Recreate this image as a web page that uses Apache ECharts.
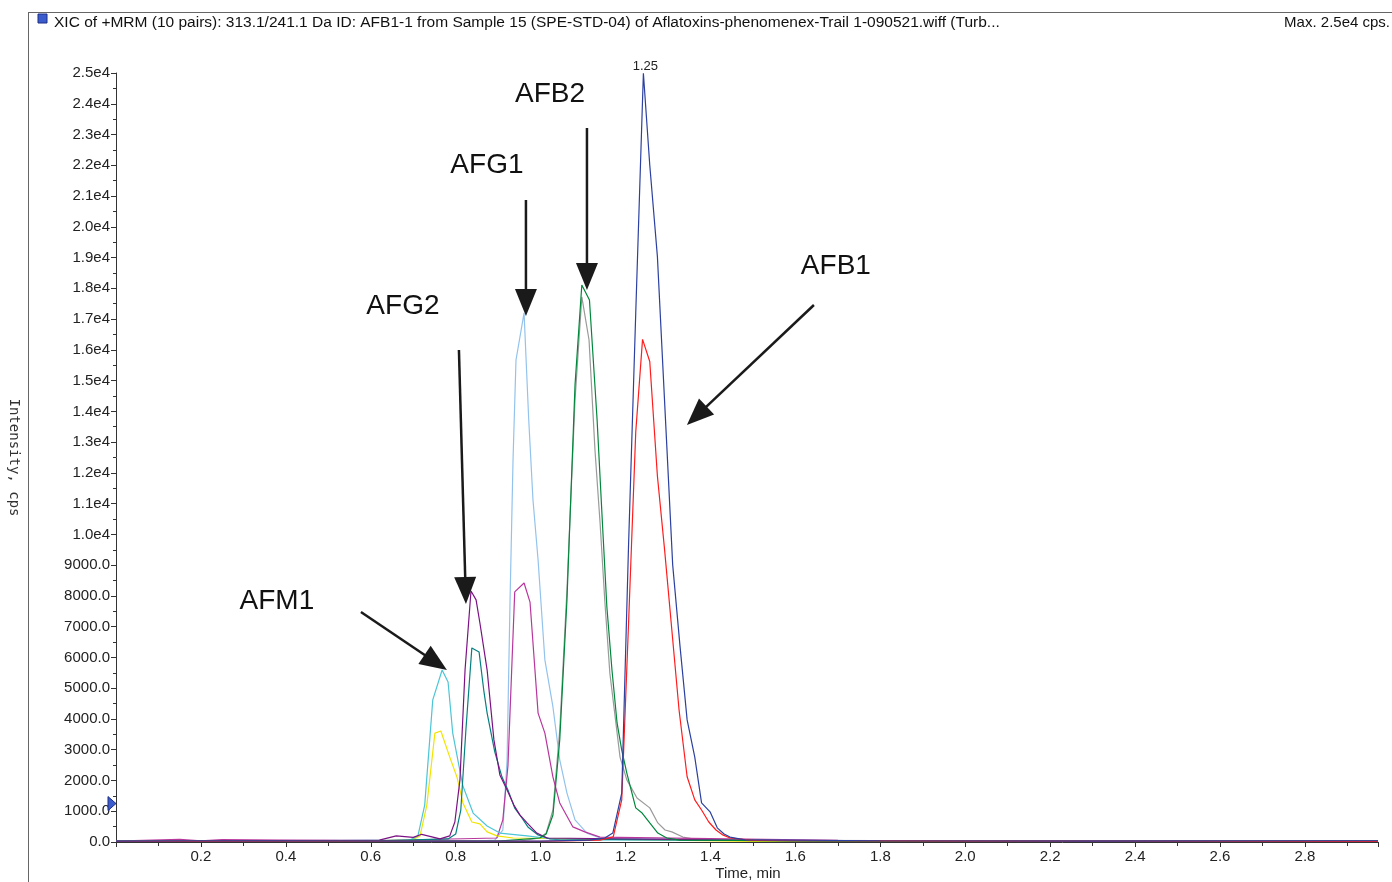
<!DOCTYPE html>
<html><head><meta charset="utf-8">
<script src="https://cdn.jsdelivr.net/npm/echarts@6/dist/echarts.min.js"></script>
<style>html,body{margin:0;padding:0;background:#fff;}#c{width:1392px;height:882px;}</style>
</head><body><div id="c"></div>
<script>
// ---------- texts ----------
const titleText = 'XIC of +MRM (10 pairs): 313.1/241.1 Da ID: AFB1-1 from Sample 15 (SPE-STD-04) of Aflatoxins-phenomenex-Trail 1-090521.wiff (Turb...';
const maxText = 'Max. 2.5e4 cps.';
const xAxisName = 'Time, min';
const yAxisName = 'Intensity, cps';
const apexLabel = '1.25';

// ---------- data (time in min, intensity in cps) ----------
const blueT = [0, 0.35, 0.7, 1.0, 1.116, 1.151, 1.170, 1.191, 1.207, 1.224, 1.242, 1.257, 1.275, 1.297, 1.311, 1.328, 1.345, 1.363, 1.379, 1.399, 1.416, 1.432, 1.446, 1.481, 1.8, 2.3, 2.972];
const blueI = [30, 40, 30, 30, 60, 130, 290, 1590, 9620, 17200, 24990, 22010, 19030, 12910, 9010, 6400, 3970, 2760, 1270, 980, 460, 260, 160, 70, 40, 30, 40];

const redT = [0, 0.5, 1.0, 1.140, 1.171, 1.191, 1.207, 1.224, 1.240, 1.257, 1.275, 1.292, 1.309, 1.326, 1.345, 1.363, 1.379, 1.396, 1.413, 1.429, 1.446, 1.5, 2.0, 2.972];
const redI = [20, 30, 20, 60, 170, 1370, 7090, 13330, 16340, 15620, 11900, 9490, 6890, 4290, 2120, 1370, 1040, 650, 390, 230, 130, 50, 30, 20];

const greenT = [0, 0.5, 0.9, 0.998, 1.013, 1.029, 1.045, 1.062, 1.081, 1.097, 1.115, 1.133, 1.147, 1.156, 1.168, 1.180, 1.191, 1.203, 1.224, 1.239, 1.257, 1.276, 1.297, 1.328, 1.8, 2.972];
const greenI = [20, 30, 30, 130, 260, 880, 3320, 7870, 14860, 18110, 17620, 13720, 9980, 7640, 5590, 3870, 2990, 2240, 1110, 940, 620, 290, 130, 60, 30, 20];

const grayT = [0, 0.6, 0.95, 0.998, 1.013, 1.029, 1.045, 1.062, 1.081, 1.097, 1.114, 1.128, 1.140, 1.151, 1.163, 1.187, 1.203, 1.227, 1.257, 1.276, 1.293, 1.309, 1.335, 1.375, 2.0, 2.972];
const grayI = [30, 40, 30, 130, 290, 1040, 3640, 8190, 14370, 17720, 16320, 12740, 10370, 7870, 5490, 2760, 2020, 1430, 1110, 620, 390, 330, 160, 65, 40, 30];

const lightBlueT = [0, 0.5, 0.85, 0.892, 0.911, 0.921, 0.928, 0.935, 0.942, 0.961, 0.972, 0.982, 0.994, 1.010, 1.029, 1.045, 1.062, 1.081, 1.109, 1.140, 1.6, 2.972];
const lightBlueI = [30, 40, 30, 65, 390, 2670, 7870, 12420, 15670, 17200, 13720, 11120, 9170, 5920, 4390, 2670, 1590, 720, 290, 130, 40, 30];

const magentaT = [0, 0.15, 0.2, 0.25, 0.6, 0.897, 0.911, 0.923, 0.939, 0.961, 0.975, 0.994, 1.010, 1.029, 1.045, 1.076, 1.104, 1.140, 1.7, 2.972];
const magentaI = [30, 90, 40, 80, 40, 130, 720, 2470, 8130, 8420, 7800, 4190, 3540, 2110, 1270, 490, 330, 160, 50, 30];

const purpleT = [0, 0.62, 0.66, 0.70, 0.72, 0.763, 0.786, 0.798, 0.810, 0.822, 0.836, 0.848, 0.857, 0.874, 0.890, 0.904, 0.921, 0.937, 0.951, 0.968, 0.991, 1.015, 1.6, 2.972];
const purpleI = [20, 60, 200, 150, 250, 100, 200, 650, 2020, 5590, 8160, 7870, 7120, 5590, 3320, 2180, 1690, 1200, 880, 620, 290, 130, 40, 20];

const tealT = [0, 0.6, 0.782, 0.800, 0.812, 0.824, 0.838, 0.855, 0.866, 0.874, 0.892, 0.909, 0.923, 0.939, 0.956, 0.970, 0.994, 1.022, 1.7, 2.972];
const tealI = [20, 30, 100, 260, 1040, 3640, 6310, 6180, 4940, 4190, 2930, 2110, 1690, 1100, 780, 490, 230, 100, 30, 20];

const cyanT = [0, 0.4, 0.692, 0.711, 0.727, 0.746, 0.768, 0.782, 0.793, 0.805, 0.817, 0.841, 0.874, 0.904, 0.968, 1.010, 1.045, 2.0, 2.972];
const cyanI = [30, 40, 65, 200, 1200, 4620, 5590, 5200, 3540, 2670, 1820, 940, 520, 290, 200, 130, 65, 40, 30];

const yellowT = [0, 0.5, 0.697, 0.716, 0.732, 0.751, 0.765, 0.786, 0.803, 0.817, 0.838, 0.857, 0.874, 0.897, 0.935, 1.5, 2.972];
const yellowI = [20, 20, 65, 200, 1200, 3540, 3610, 2760, 2110, 1270, 650, 590, 330, 200, 130, 20, 20];

// annotations in data units: label position, arrow start, arrow tip
const annLabels = ['AFB2', 'AFG1', 'AFG2', 'AFM1', 'AFB1'];
const annTextPos = [[1.022, 24317], [0.8735, 22009], [0.6757, 17425], [0.3789, 7835], [1.6953, 18726]];
const annFrom = [[1.1091, 23212], [0.9654, 20871], [0.8076, 15995], [0.5768, 7477], [1.6436, 17458]];
const annTo = [[1.1091, 17945], [0.9654, 17100], [0.8241, 7737], [0.7793, 5592], [1.3445, 13557]];
const thresholdLevel = 1250;

// ---------- chart ----------
const seriesDefs = [
  {name: 'gray', t: grayT, v: grayI, color: '#9a9a9a'},
  {name: 'lightBlue', t: lightBlueT, v: lightBlueI, color: '#93c3ec'},
  {name: 'magenta', t: magentaT, v: magentaI, color: '#b8379d'},
  {name: 'yellow', t: yellowT, v: yellowI, color: '#f2e400'},
  {name: 'cyan', t: cyanT, v: cyanI, color: '#4cc5d6'},
  {name: 'teal', t: tealT, v: tealI, color: '#067f80'},
  {name: 'purple', t: purpleT, v: purpleI, color: '#7b1283'},
  {name: 'green', t: greenT, v: greenI, color: '#00873b'},
  {name: 'red', t: redT, v: redI, color: '#ff1c1c'},
  {name: 'blue', t: blueT, v: blueI, color: '#2b40a0'}
];

const FONT = 'Liberation Sans, Arial, sans-serif';

const series = seriesDefs.map(d => ({
  name: d.name, type: 'line', data: d.t.map((t, i) => [t, d.v[i]]),
  showSymbol: false, symbol: 'none',
  lineStyle: {color: d.color, width: 1.2}, itemStyle: {color: d.color},
  animation: false, z: 2
}));

const chart = echarts.init(document.getElementById('c'), null, {renderer: 'canvas'});
const option = {
  animation: false,
  backgroundColor: '#ffffff',
  grid: {left: 116, right: 14, top: 73, bottom: 40, containLabel: false, outerBoundsMode: 'none'},
  xAxis: {
    type: 'value', min: 0, max: 2.972, interval: 0.2,
    axisLine: {show: true, lineStyle: {color: '#333', width: 1}},
    axisTick: {show: true, length: 5, lineStyle: {color: '#333'}},
    minorTick: {show: true, splitNumber: 2, length: 4, lineStyle: {color: '#333'}},
    splitLine: {show: false}, minorSplitLine: {show: false},
    axisLabel: {
      fontFamily: FONT, fontSize: 15, color: '#222', margin: 7, showMaxLabel: false, showMinLabel: false,
      formatter: v => { const r = Math.round(v * 10) / 10; if (r === 0 || Math.abs(v - 2.972) < 1e-6) return ''; return r.toFixed(1); }
    }
  },
  yAxis: {
    type: 'value', min: 0, max: 25000, interval: 1000,
    name: yAxisName, nameLocation: 'middle', nameGap: 95, nameRotate: -90,
    nameTextStyle: {fontFamily: 'DejaVu Sans Mono, monospace', fontSize: 14, color: '#333'},
    axisLine: {show: true, lineStyle: {color: '#333', width: 1}},
    axisTick: {show: true, length: 5, lineStyle: {color: '#333'}},
    minorTick: {show: true, splitNumber: 2, length: 3, lineStyle: {color: '#333'}},
    splitLine: {show: false}, minorSplitLine: {show: false},
    axisLabel: {
      fontFamily: FONT, fontSize: 15, color: '#222', margin: 6,
      formatter: v => v < 10000 ? v.toFixed(1) : (v / 10000).toFixed(1) + 'e4'
    }
  },
  series: series,
  graphic: [
    {type: 'line', shape: {x1: 28, y1: 12.5, x2: 1392, y2: 12.5}, style: {stroke: '#666', lineWidth: 1}, silent: true},
    {type: 'line', shape: {x1: 28.5, y1: 12, x2: 28.5, y2: 882}, style: {stroke: '#666', lineWidth: 1}, silent: true},
    {type: 'rect', shape: {x: 38, y: 14, width: 9, height: 9}, style: {fill: '#3a5ccc', stroke: '#1d2f88', lineWidth: 1}, silent: true},
    {type: 'text', left: 54, top: 15, style: {text: titleText, font: '15.5px ' + FONT, fill: '#111'}, silent: true},
    {type: 'text', right: 2, top: 15, style: {text: maxText, font: '15px ' + FONT, fill: '#111'}, silent: true},
    {type: 'text', x: 748, y: 874, style: {text: xAxisName, font: '15px ' + FONT, fill: '#222', textAlign: 'center', textVerticalAlign: 'middle'}, silent: true}
  ]
};
chart.setOption(option);

// arrows, labels and apex label placed through the chart's own coordinate conversion
const extra = [];
annLabels.forEach((lab, i) => {
  const p = chart.convertToPixel({gridIndex: 0}, annTextPos[i]);
  extra.push({type: 'text', x: p[0], y: p[1], z: 10, silent: true,
    style: {text: lab, font: '28px ' + FONT, fill: '#111', textAlign: 'center', textVerticalAlign: 'middle'}});
  const a = chart.convertToPixel({gridIndex: 0}, annFrom[i]);
  const b = chart.convertToPixel({gridIndex: 0}, annTo[i]);
  const dx = b[0] - a[0], dy = b[1] - a[1];
  const len = Math.sqrt(dx * dx + dy * dy);
  const ux = dx / len, uy = dy / len;
  const L = 27, W = 11;
  const bx = b[0] - ux * L, by = b[1] - uy * L;
  extra.push({type: 'line', z: 10, silent: true, shape: {x1: a[0], y1: a[1], x2: bx + ux * 2, y2: by + uy * 2},
    style: {stroke: '#1a1a1a', lineWidth: 2.5}});
  extra.push({type: 'polygon', z: 10, silent: true,
    shape: {points: [[b[0], b[1]], [bx - uy * W, by + ux * W], [bx + uy * W, by - ux * W]]},
    style: {fill: '#1a1a1a'}});
});
// apex label of the tallest trace
let mi = 0;
blueI.forEach((v, i) => { if (v > blueI[mi]) mi = i; });
const ap = chart.convertToPixel({gridIndex: 0}, [blueT[mi], blueI[mi]]);
extra.push({type: 'text', x: ap[0] + 2, y: ap[1], z: 10, silent: true,
  style: {text: apexLabel, font: '13px ' + FONT, fill: '#222', textAlign: 'center', textVerticalAlign: 'bottom'}});
const tp = chart.convertToPixel({gridIndex: 0}, [0, thresholdLevel]);
extra.push({type: 'polygon', z: 10, silent: true,
  shape: {points: [[tp[0] - 8, tp[1] - 7], [tp[0], tp[1]], [tp[0] - 8, tp[1] + 7]]},
  style: {fill: '#3a5ccc', stroke: '#1d2f88', lineWidth: 1}});
chart.setOption({graphic: option.graphic.concat(extra)});
</script>
</body></html>
